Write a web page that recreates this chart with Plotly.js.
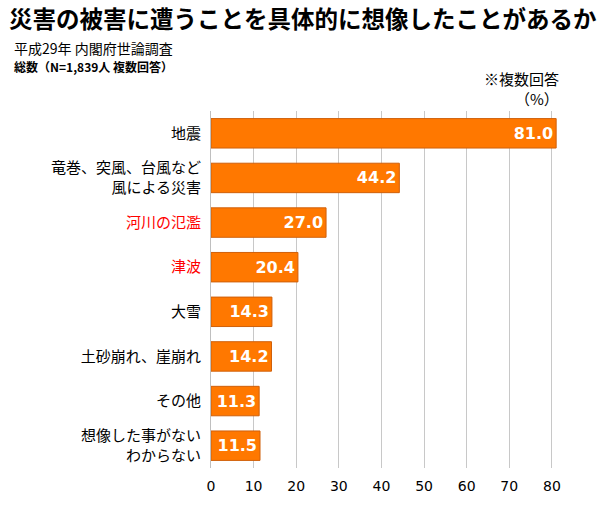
<!DOCTYPE html>
<html><head><meta charset="utf-8">
<script src="https://cdn.plot.ly/plotly-3.0.1.min.js"></script>
<style>body{margin:0;background:#fff}#c{width:600px;height:506px}</style>
</head><body><div id="c"></div>
<script>
const categories = ["地震","竜巻、突風、台風など<br>風による災害","河川の氾濫","津波","大雪","土砂崩れ、崖崩れ","その他","想像した事がない<br>わからない"];
const values = [81.0, 44.2, 27.0, 20.4, 14.3, 14.2, 11.3, 11.5];
const labelColors = ["#000","#000","#FF0000","#FF0000","#000","#000","#000","#000"];
const xTicks = [0,10,20,30,40,50,60,70,80];

const ids = categories.map((c,i)=>"c"+i);
const ticktext = categories.map((c,i)=>`<span style="color:${labelColors[i]}">${c}</span>`);
const F = '"Noto Sans CJK JP", sans-serif';

Plotly.newPlot('c', [{
  type:'bar', orientation:'h',
  y: ids, x: values,
  text: values.map(v=>v.toFixed(1)),
  textposition:'inside', insidetextanchor:'end',
  textfont:{color:'#fff', size:16, family:'"DejaVu Sans", sans-serif', weight:'bold'},
  marker:{color:'#FF7800', line:{color:'#D0600A', width:1}},
  width:0.66, hoverinfo:'none', cliponaxis:false
}], {
  width:600, height:506,
  margin:{l:211, r:43, t:111, b:38},
  paper_bgcolor:'#fff', plot_bgcolor:'#fff',
  showlegend:false,
  xaxis:{range:[0,81.2], tickvals:xTicks, showgrid:true, gridcolor:'#C8C8C8', gridwidth:1,
         zeroline:false, showline:false, ticks:'', ticklabelstandoff:8,
         tickfont:{family:'"DejaVu Sans", sans-serif', size:14, color:'#000'}, fixedrange:true},
  yaxis:{categoryorder:'array', categoryarray:ids, tickvals:ids, ticktext:ticktext, autorange:'reversed',
         showline:true, linecolor:'#BFBFBF', linewidth:1, ticks:'', ticklen:0, ticklabelstandoff:6,
         tickfont:{family:F, size:15, color:'#000'}, fixedrange:true},
  annotations:[
    {text:'<b>災害の被害に遭うことを具体的に想像したことがあるか</b>', xref:'paper', yref:'paper', x:-204/346, xanchor:'left', y:1, yanchor:'middle', yshift:111-18, showarrow:false, font:{family:F, size:23.5, color:'#000'}},
    {text:'平成29年 内閣府世論調査', xref:'paper', yref:'paper', x:-199/346, xanchor:'left', y:1, yanchor:'middle', yshift:111-48, showarrow:false, font:{family:F, size:14, color:'#000'}},
    {text:'<b>総数（N=1,839人 複数回答）</b>', xref:'paper', yref:'paper', x:-199/346, xanchor:'left', y:1, yanchor:'middle', yshift:111-66, showarrow:false, font:{family:F, size:12, color:'#000'}},
    {text:'※複数回答', xref:'paper', yref:'paper', x:(561-211)/346, xanchor:'right', y:1, yanchor:'middle', yshift:111-78, showarrow:false, font:{family:F, size:15, color:'#000'}},
    {text:'（%）', xref:'paper', yref:'paper', x:(561-211)/346, xanchor:'right', y:1, yanchor:'middle', yshift:111-98, showarrow:false, font:{family:F, size:15, color:'#000'}}
  ]
}, {displayModeBar:false, staticPlot:true});
</script></body></html>
